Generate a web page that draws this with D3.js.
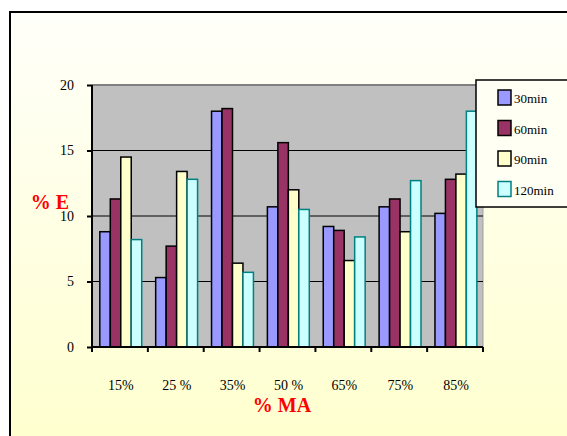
<!DOCTYPE html>
<html>
<head>
<meta charset="utf-8">
<script src="https://cdn.jsdelivr.net/npm/d3@7"></script>
<style>
  html, body { margin: 0; padding: 0; background: #ffffff; }
  svg { display: block; }
  text { font-family: "Liberation Serif", "Times New Roman", serif; }
</style>
</head>
<body>
<script>
// Categories (% MA) and the four time series (% E)
const categories = ["15%", "25 %", "35%", "50 %", "65%", "75%", "85%"];
const seriesNames = ["30min", "60min", "90min", "120min"];
const values30 = [8.8, 5.3, 18.0, 10.7, 9.2, 10.7, 10.2];
const values60 = [11.3, 7.7, 18.2, 15.6, 8.9, 11.3, 12.8];
const values90 = [14.5, 13.4, 6.4, 12.0, 6.6, 8.8, 13.2];
const values120 = [8.2, 12.8, 5.7, 10.5, 8.4, 12.7, 18.0];
const yTicks = [0, 5, 10, 15, 20];

const seriesValues = [values30, values60, values90, values120];
const fills = ["#9999ff", "#993366", "#ffffcc", "#ccffff"];
const strokes = ["#000000", "#000000", "#000000", "#008080"];

const W = 567, H = 436;
const plot = { left: 92, right: 483, top: 85, bottom: 347 };

const svg = d3.select("body").append("svg")
  .attr("width", W).attr("height", H);

// chart frame with a soft vertical gradient
const defs = svg.append("defs");
const grad = defs.append("linearGradient")
  .attr("id", "bg").attr("x1", 0).attr("y1", 0).attr("x2", 0).attr("y2", 1);
grad.append("stop").attr("offset", "0%").attr("stop-color", "#fffffa");
grad.append("stop").attr("offset", "100%").attr("stop-color", "#ffffcc");

svg.append("rect")
  .attr("x", 10).attr("y", 12).attr("width", W + 20).attr("height", H + 20)
  .attr("fill", "url(#bg)").attr("stroke", "#000").attr("stroke-width", 2);

// scales
const x0 = d3.scaleBand().domain(categories)
  .range([plot.left, plot.right]).paddingInner(0).paddingOuter(0);
const bw = x0.bandwidth();
const x1 = d3.scaleBand().domain(seriesNames)
  .range([bw * 0.14, bw * 0.89]).padding(0);
const y = d3.scaleLinear().domain([0, 20]).range([plot.bottom, plot.top]);

// plot area
svg.append("rect")
  .attr("x", plot.left).attr("y", plot.top)
  .attr("width", plot.right - plot.left).attr("height", plot.bottom - plot.top)
  .attr("fill", "#c0c0c0");
svg.append("line")
  .attr("x1", plot.left).attr("x2", plot.right)
  .attr("y1", plot.top).attr("y2", plot.top)
  .attr("stroke", "#808080").attr("stroke-width", 2);
svg.append("line")
  .attr("x1", plot.right).attr("x2", plot.right)
  .attr("y1", plot.top).attr("y2", plot.bottom)
  .attr("stroke", "#a0a0a0").attr("stroke-width", 1);

// gridlines
svg.append("g").selectAll("line")
  .data(yTicks.filter(t => t > 0 && t < 20))
  .join("line")
  .attr("x1", plot.left).attr("x2", plot.right)
  .attr("y1", d => y(d)).attr("y2", d => y(d))
  .attr("stroke", "#000").attr("stroke-width", 1.2);

// bars
const groups = svg.append("g").selectAll("g")
  .data(categories)
  .join("g")
  .attr("transform", d => `translate(${x0(d)},0)`);

groups.selectAll("rect")
  .data((c, ci) => seriesNames.map((s, si) => ({ s, si, v: seriesValues[si][ci] })))
  .join("rect")
  .attr("x", d => x1(d.s))
  .attr("y", d => y(d.v))
  .attr("width", x1.bandwidth())
  .attr("height", d => y(0) - y(d.v))
  .attr("fill", d => fills[d.si])
  .attr("stroke", d => strokes[d.si])
  .attr("stroke-width", 1.5);

// y axis
const yAxis = d3.axisLeft(y).tickValues(yTicks).tickSize(5).tickPadding(13);
const gy = svg.append("g").attr("transform", `translate(${plot.left},0)`).call(yAxis);
gy.select(".domain").attr("stroke", "#000").attr("stroke-width", 2)
  .attr("d", `M0,${plot.top}V${plot.bottom}`);
gy.selectAll(".tick line").attr("stroke", "#000").attr("stroke-width", 2);
gy.selectAll(".tick text")
  .attr("font-family", "'Liberation Serif', serif")
  .attr("font-size", 14).attr("fill", "#000");

// x axis: ticks on category boundaries
const gx = svg.append("g").attr("transform", `translate(0,${plot.bottom})`);
gx.append("line")
  .attr("x1", plot.left).attr("x2", plot.right)
  .attr("stroke", "#000").attr("stroke-width", 2);
gx.selectAll("line.tk")
  .data(categories.map(c => x0(c)).concat([plot.right]))
  .join("line").attr("class", "tk")
  .attr("x1", d => d).attr("x2", d => d)
  .attr("y1", 0).attr("y2", 5)
  .attr("stroke", "#000").attr("stroke-width", 2);
gx.selectAll("text")
  .data(categories)
  .join("text")
  .attr("x", d => x0(d) + bw / 2 + 1)
  .attr("y", 43)
  .attr("text-anchor", "middle")
  .attr("font-size", 14).attr("fill", "#000")
  .text(d => d);

// axis titles
svg.append("text")
  .attr("x", 282).attr("y", 412)
  .attr("text-anchor", "middle")
  .attr("font-size", 20).attr("font-weight", "bold").attr("fill", "#ff0000")
  .text("% MA");
svg.append("text")
  .attr("x", 50).attr("y", 209)
  .attr("text-anchor", "middle")
  .attr("font-size", 20).attr("font-weight", "bold").attr("fill", "#ff0000")
  .text("% E");

// legend
const lg = svg.append("g");
lg.append("rect")
  .attr("x", 476).attr("y", 80).attr("width", 120).attr("height", 127)
  .attr("fill", "#fffff4").attr("stroke", "#000").attr("stroke-width", 1.5);
const items = lg.selectAll("g.item")
  .data(seriesNames)
  .join("g").attr("class", "item")
  .attr("transform", (d, i) => `translate(498,${90 + i * 30.5})`);
items.append("rect")
  .attr("width", 13).attr("height", 15)
  .attr("fill", (d, i) => fills[i])
  .attr("stroke", (d, i) => strokes[i]).attr("stroke-width", 1.5);
items.append("text")
  .attr("x", 16).attr("y", 13)
  .attr("font-size", 13).attr("fill", "#000")
  .text(d => d);
</script>
</body>
</html>
